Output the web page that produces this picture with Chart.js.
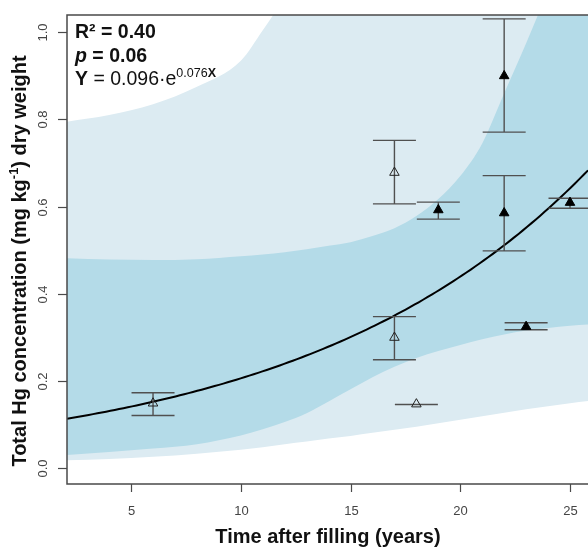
<!DOCTYPE html>
<html>
<head>
<meta charset="utf-8">
<script src="https://cdn.jsdelivr.net/npm/chart.js@4/dist/chart.umd.min.js"></script>
<style>
  html, body { margin: 0; padding: 0; background: #ffffff; }
  #wrap { width: 588px; height: 547px; position: relative; }
</style>
</head>
<body>
<div id="wrap"><canvas id="chart" width="588" height="547"></canvas></div>
<script>
// Years at which the band edges are sampled
const bandYears = [2.08, 4, 6, 8, 10, 11, 12, 13, 14, 15, 16, 17, 18, 19, 20, 21, 22, 23, 24, 25, 25.82];
// Prediction band (outer, light)
const predUpper = [0.795, 0.81, 0.835, 0.875, 0.935, 1.005, 1.08, 1.16, 1.25, 1.35, 1.46, 1.58, 1.71, 1.85, 2.0, 2.16, 2.33, 2.51, 2.7, 2.9, 3.07];
const predLower = [0.017, 0.02, 0.025, 0.032, 0.041, 0.047, 0.054, 0.06, 0.067, 0.073, 0.08, 0.087, 0.094, 0.102, 0.11, 0.118, 0.126, 0.134, 0.141, 0.148, 0.153];
// Confidence band (inner, darker)
const confUpper = [0.481, 0.478, 0.477, 0.479, 0.486, 0.49, 0.495, 0.502, 0.51, 0.518, 0.532, 0.55, 0.578, 0.617, 0.67, 0.745, 0.86, 0.975, 1.1, 1.25, 1.38];
const confLower = [0.029, 0.036, 0.044, 0.054, 0.074, 0.088, 0.105, 0.125, 0.152, 0.18, 0.208, 0.232, 0.252, 0.268, 0.282, 0.295, 0.306, 0.315, 0.321, 0.326, 0.329];

// Site means (open symbols) with error limits
const openYears = [6, 17, 17, 18];
const openMeans = [0.148, 0.299, 0.678, 0.146];
const openLow   = [0.120, 0.248, 0.606, 0.145];
const openHigh  = [0.172, 0.347, 0.752, 0.145];

// Site means (filled symbols) with error limits
const filledYears = [19, 22, 22, 23, 25];
const filledMeans = [0.592, 0.900, 0.585, 0.324, 0.609];
const filledLow   = [0.571, 0.771, 0.498, 0.317, 0.596];
const filledHigh  = [0.610, 1.031, 0.671, 0.333, 0.619];

// Exponential fit Y = a * e^(b * X) and its statistics
const fitA = 0.096;
const fitB = 0.076;
const rSquared = '0.40';
const pValue = '0.06';

// Axis ticks and titles
const xTicks = [5, 10, 15, 20, 25];
const yTicks = [0.0, 0.2, 0.4, 0.6, 0.8, 1.0];
const xTitle = 'Time after filling (years)';
const xRange = [2.08, 25.82];
const yRange = [-0.0375, 1.04];

const FONT = '"Liberation Sans", Arial, Helvetica, sans-serif';

const pts = (xs, ys) => xs.map((x, i) => ({ x: x, y: ys[i] }));

// Fitted curve evaluated across the x range
const fitCurve = [];
const fitSteps = 120;
for (let i = 0; i <= fitSteps; i++) {
  const x = xRange[0] + (xRange[1] - xRange[0]) * i / fitSteps;
  fitCurve.push({ x: x, y: fitA * Math.exp(fitB * x) });
}

// Error bars drawn right after the fitted curve, beneath the symbols
const errorBars = {
  id: 'errorBars',
  afterDatasetDraw(chart, args) {
    if (args.index !== 4) return;
    const { ctx, scales: { x, y } } = chart;
    const cap = 21.5;
    ctx.save();
    ctx.strokeStyle = '#505050';
    ctx.lineWidth = 1.4;
    const draw = (xs, lo, hi) => {
      xs.forEach((v, i) => {
        const px = x.getPixelForValue(v);
        const pLo = y.getPixelForValue(lo[i]);
        const pHi = y.getPixelForValue(hi[i]);
        ctx.beginPath();
        ctx.moveTo(px, pHi); ctx.lineTo(px, pLo);
        ctx.moveTo(px - cap, pHi); ctx.lineTo(px + cap, pHi);
        ctx.moveTo(px - cap, pLo); ctx.lineTo(px + cap, pLo);
        ctx.stroke();
      });
    };
    draw(openYears, openLow, openHigh);
    draw(filledYears, filledLow, filledHigh);
    ctx.restore();
  }
};

// Draws a sequence of text runs (font, text, vertical shift) starting at x
function runsWidth(ctx, runs) {
  let w = 0;
  runs.forEach(r => { ctx.font = r.font; w += ctx.measureText(r.text).width; });
  return w;
}
function drawRuns(ctx, runs, x, y) {
  let cx = x;
  runs.forEach(r => {
    ctx.font = r.font;
    ctx.fillText(r.text, cx, y - (r.dy || 0));
    cx += ctx.measureText(r.text).width;
  });
}

// Frame, ticks, tick labels, axis titles and the fit statistics
const frame = {
  id: 'frame',
  afterDraw(chart) {
    const { ctx, chartArea: a, scales: { x, y } } = chart;
    ctx.save();
    ctx.strokeStyle = '#4a4a4a';
    ctx.lineWidth = 1.5;
    ctx.beginPath();
    ctx.moveTo(chart.width + 2, a.top);
    ctx.lineTo(a.left, a.top);
    ctx.lineTo(a.left, a.bottom);
    ctx.lineTo(chart.width + 2, a.bottom);
    ctx.stroke();

    // x ticks
    ctx.lineWidth = 1.2;
    ctx.fillStyle = '#444444';
    ctx.font = '13px ' + FONT;
    ctx.textAlign = 'center';
    ctx.textBaseline = 'alphabetic';
    xTicks.forEach(v => {
      const px = Math.round(x.getPixelForValue(v)) + 0.5;
      ctx.beginPath();
      ctx.moveTo(px, a.bottom);
      ctx.lineTo(px, a.bottom + 8);
      ctx.stroke();
      ctx.fillText(String(v), px, a.bottom + 31);
    });

    // y ticks, labels turned to read upward
    yTicks.forEach(v => {
      const py = Math.round(y.getPixelForValue(v)) + 0.5;
      ctx.beginPath();
      ctx.moveTo(a.left - 9, py);
      ctx.lineTo(a.left, py);
      ctx.stroke();
      ctx.save();
      ctx.translate(47, py);
      ctx.rotate(-Math.PI / 2);
      ctx.fillText(v.toFixed(1), 0, 0);
      ctx.restore();
    });

    // axis titles
    ctx.fillStyle = '#111111';
    ctx.textAlign = 'left';
    const big = 'bold 19.5px ' + FONT;
    const title = 'bold 20px ' + FONT;
    const small = 'bold 13px ' + FONT;
    ctx.font = title;
    const xw = ctx.measureText(xTitle).width;
    ctx.fillText(xTitle, 328 - xw / 2, 543);

    const yRuns = [
      { font: title, text: 'Total Hg concentration (mg kg' },
      { font: small, text: '-1', dy: 8 },
      { font: title, text: ') dry weight' }
    ];
    const yw = runsWidth(ctx, yRuns);
    ctx.save();
    ctx.translate(26, 261);
    ctx.rotate(-Math.PI / 2);
    drawRuns(ctx, yRuns, -yw / 2, 0);
    ctx.restore();

    // fit statistics
    const tx = a.left + 8;
    drawRuns(ctx, [
      { font: big, text: 'R\u00B2 = ' + rSquared }
    ], tx, 38);
    drawRuns(ctx, [
      { font: 'italic bold 19.5px ' + FONT, text: 'p' },
      { font: big, text: ' = ' + pValue }
    ], tx, 62);
    drawRuns(ctx, [
      { font: big, text: 'Y' },
      { font: '19.5px ' + FONT, text: ' = ' + fitA.toFixed(3) + '\u00B7e' },
      { font: '12.5px ' + FONT, text: fitB.toFixed(3), dy: 8 },
      { font: 'bold 12.5px ' + FONT, text: 'X', dy: 8 }
    ], tx, 85);
    ctx.restore();
  }
};

const lineBase = { borderWidth: 0, pointRadius: 0, cubicInterpolationMode: 'monotone' };

new Chart(document.getElementById('chart'), {
  type: 'line',
  data: {
    datasets: [
      Object.assign({ data: pts(bandYears, predUpper), fill: false, order: 6 }, lineBase),
      Object.assign({ data: pts(bandYears, predLower), fill: '-1', backgroundColor: '#dcebf2', order: 5 }, lineBase),
      Object.assign({ data: pts(bandYears, confUpper), fill: false, order: 4 }, lineBase),
      Object.assign({ data: pts(bandYears, confLower), fill: '-1', backgroundColor: '#b4dbe8', order: 3 }, lineBase),
      { data: fitCurve, borderColor: '#000000', borderWidth: 2, pointRadius: 0, fill: false, order: 2, tension: 0 },
      {
        type: 'scatter', data: pts(openYears, openMeans), showLine: false,
        pointStyle: 'triangle', pointRadius: 5.5, pointBackgroundColor: 'rgba(0,0,0,0)',
        pointBorderColor: '#222222', pointBorderWidth: 1, order: 1
      },
      {
        type: 'scatter', data: pts(filledYears, filledMeans), showLine: false,
        pointStyle: 'triangle', pointRadius: 5.5, pointBackgroundColor: '#000000',
        pointBorderColor: '#000000', pointBorderWidth: 1, order: 0
      }
    ]
  },
  options: {
    responsive: false,
    animation: false,
    events: [],
    layout: { autoPadding: false, padding: { left: 67, top: 15, right: 0, bottom: 63 } },
    scales: {
      x: { type: 'linear', min: xRange[0], max: xRange[1], display: false },
      y: { type: 'linear', min: yRange[0], max: yRange[1], display: false }
    },
    plugins: { legend: { display: false }, tooltip: { enabled: false } }
  },
  plugins: [errorBars, frame]
});
</script>
</body>
</html>
